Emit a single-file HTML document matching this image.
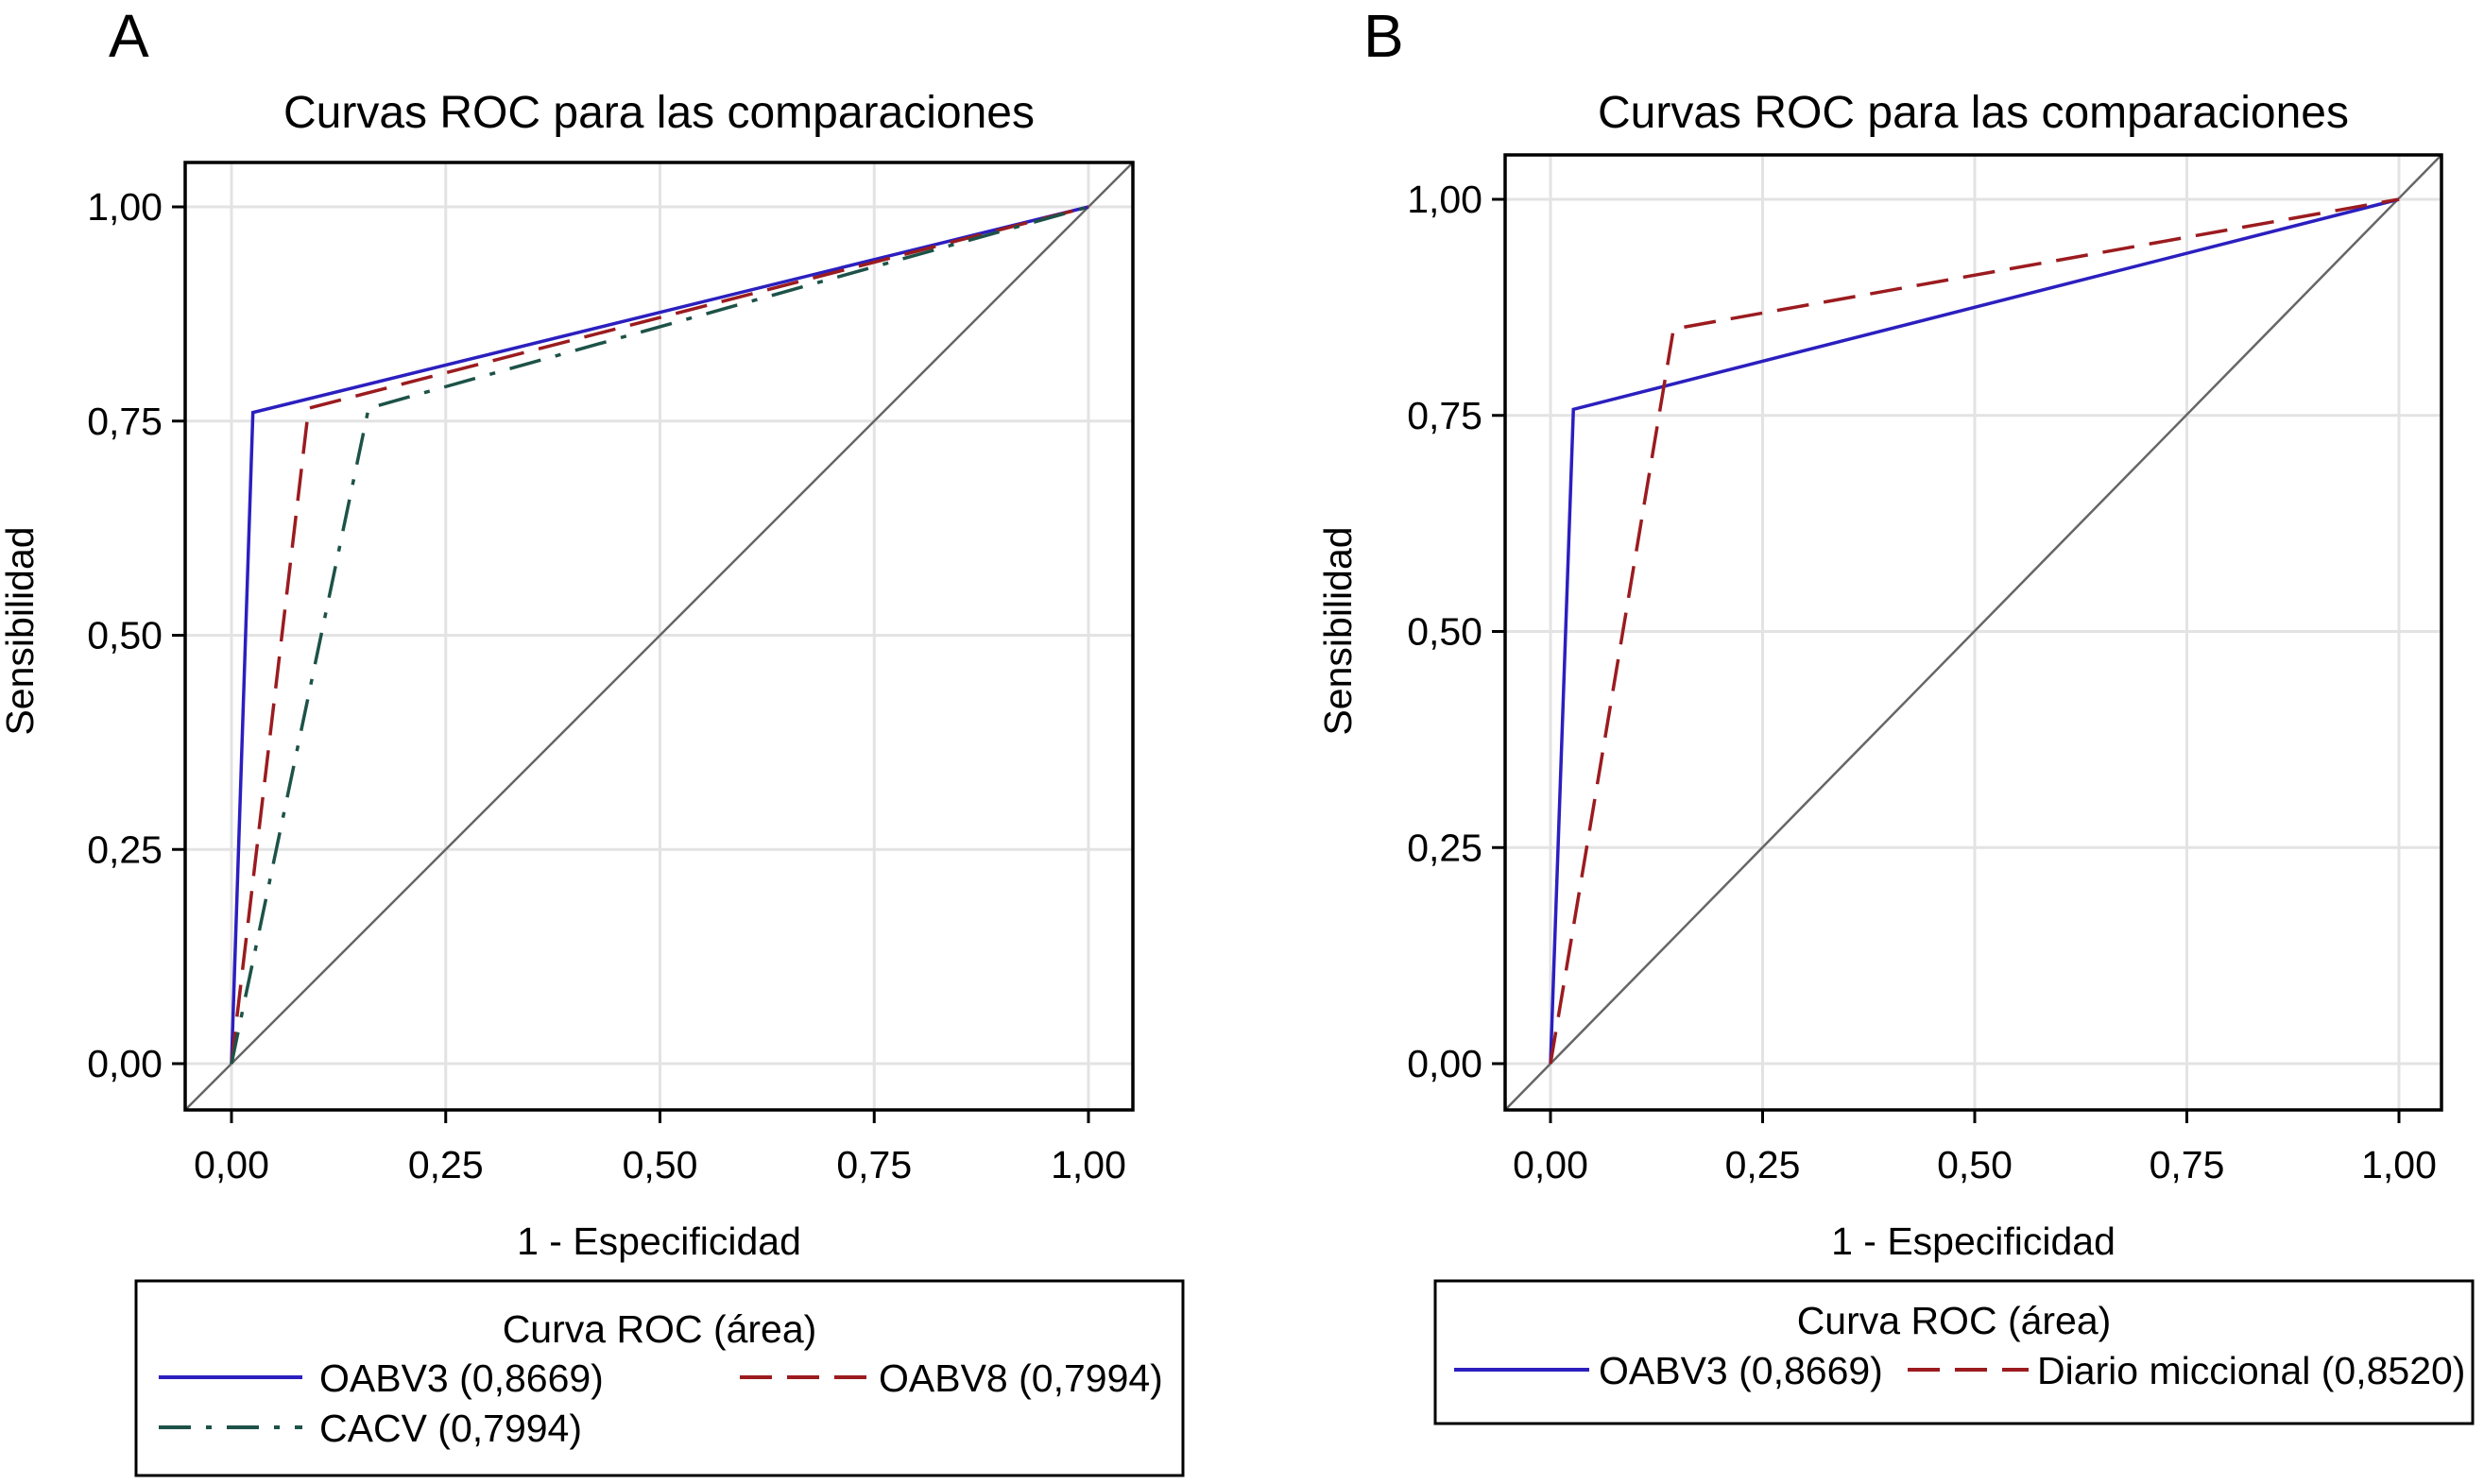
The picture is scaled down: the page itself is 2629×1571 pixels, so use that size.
<!DOCTYPE html>
<html><head><meta charset="utf-8"><style>
html,body{margin:0;padding:0;background:#fff;}
svg{display:block;font-family:"Liberation Sans",sans-serif;}
</style></head><body>
<svg id="chart" width="2629" height="1571" xmlns="http://www.w3.org/2000/svg"></svg>
<script>
const ticks = [0, 0.25, 0.5, 0.75, 1];
const tickLabels = ["0,00", "0,25", "0,50", "0,75", "1,00"];
const aOABV3x = [0, 0.025, 1], aOABV3y = [0, 0.76, 1];
const aOABV8x = [0, 0.09, 1], aOABV8y = [0, 0.765, 1];
const aCACVx = [0, 0.16, 1], aCACVy = [0, 0.765, 1];
const bOABV3x = [0, 0.027, 1], bOABV3y = [0, 0.757, 1];
const bDiarioX = [0, 0.145, 1], bDiarioY = [0, 0.85, 1];

const NS = "http://www.w3.org/2000/svg";
const svg = document.getElementById('chart');
function el(tag, attrs, parent, text) {
  const e = document.createElementNS(NS, tag);
  for (const k in attrs) e.setAttribute(k, attrs[k]);
  if (text !== undefined) e.textContent = text;
  (parent || svg).appendChild(e);
  return e;
}

function panel(p) {
  const g = el('g', {});
  
  
  const X = v => p.x0 + v * (p.x1 - p.x0);
  const Y = v => p.y0 - v * (p.y0 - p.y1);
  ticks.forEach((t, i) => {
    const gx = el('line', {x1: X(t), x2: X(t), y1: p.top, y2: p.bottom, stroke: '#e3e3e3', 'stroke-width': 3}, g);
    
    
    const gy = el('line', {x1: p.left, x2: p.right, y1: Y(t), y2: Y(t), stroke: '#e3e3e3', 'stroke-width': 3}, g);
    
    
    const tx = el('line', {x1: X(t), x2: X(t), y1: p.bottom, y2: p.bottom + 14, stroke: '#000', 'stroke-width': 3}, g);
    
    
    const ty = el('line', {x1: p.left - 14, x2: p.left, y1: Y(t), y2: Y(t), stroke: '#000', 'stroke-width': 3}, g);
    
    
    const lx = el('text', {x: X(t), y: p.bottom + 72, 'font-size': 41, 'text-anchor': 'middle'}, g, tickLabels[i]);
    
    
    const ly = el('text', {x: p.left - 24, y: Y(t) + 14, 'font-size': 41, 'text-anchor': 'end'}, g, tickLabels[i]);
    
    
  });
  const d = el('line', {x1: p.left, y1: p.bottom, x2: p.right, y2: p.top, stroke: '#666', 'stroke-width': 2.5}, g);
  
  
  p.series.forEach(s => {
    const pts = s.x.map((v, i) => X(v) + ',' + Y(s.y[i])).join(' ');
    const pl = el('polyline', {points: pts, fill: 'none', stroke: s.color, 'stroke-width': 3.5, 'stroke-dasharray': s.dash || 'none'}, g);
    
    
  });
  const fr = el('rect', {x: p.left, y: p.top, width: p.right - p.left, height: p.bottom - p.top, fill: 'none', stroke: '#000', 'stroke-width': 3.5}, g);
  
  
  const ttl = el('text', {x: (p.left + p.right) / 2, y: 135, 'font-size': 48, 'text-anchor': 'middle'}, g, 'Curvas ROC para las comparaciones');
  
  
  const letter = el('text', {x: p.letterX, y: 60, 'font-size': 64}, g, p.letter);
  
  
  const xt = el('text', {x: (p.left + p.right) / 2, y: 1328, 'font-size': 41, 'text-anchor': 'middle'}, g, '1 - Especificidad');
  
  
  const yt = el('text', {x: 0, y: 0, 'font-size': 41, 'text-anchor': 'middle', transform: 'translate(' + p.ylabX + ',668) rotate(-90)'}, g, 'Sensibilidad');
  
  
  const L = p.legend;
  const lb = el('rect', {x: L.x, y: L.y, width: L.w, height: L.h, fill: 'none', stroke: '#000', 'stroke-width': 3}, g);
  
  
  const lt = el('text', {x: L.x + L.w / 2, y: L.titleY, 'font-size': 41, 'text-anchor': 'middle'}, g, 'Curva ROC (área)');
  
  
  L.entries.forEach(en => {
    const s = p.series[en.s];
    const ln = el('line', {x1: en.lx1, x2: en.lx2, y1: en.y, y2: en.y, stroke: s.color, 'stroke-width': 4, 'stroke-dasharray': s.dash || 'none'}, g);
    
    
    const tx = el('text', {x: en.tx, y: en.y + 15, 'font-size': 41}, g, en.label);
    
    
  });
}

panel({id: 'a', letter: 'A', letterX: 115, ylabX: 35,
  left: 196, right: 1199, top: 172, bottom: 1175,
  x0: 245, x1: 1152, y0: 1126, y1: 219,
  series: [
    {name: 'oabv3-line', x: aOABV3x, y: aOABV3y, color: '#2b1fbf'},
    {name: 'oabv8-line', x: aOABV8x, y: aOABV8y, color: '#9b1b1f', dash: '34 16'},
    {name: 'cacv-line', x: aCACVx, y: aCACVy, color: '#1d5248', dash: '34 16 6 16'}
  ],
  legend: {x: 144, y: 1356, w: 1108, h: 206, titleY: 1421,
    entries: [
      {s: 0, lx1: 168, lx2: 320, y: 1458, tx: 338, label: 'OABV3 (0,8669)'},
      {s: 1, lx1: 783, lx2: 920, y: 1458, tx: 930, label: 'OABV8 (0,7994)'},
      {s: 2, lx1: 168, lx2: 320, y: 1511, tx: 338, label: 'CACV (0,7994)'}
    ]}
});

panel({id: 'b', letter: 'B', letterX: 1443, ylabX: 1430,
  left: 1593, right: 2584, top: 164, bottom: 1175,
  x0: 1641, x1: 2539, y0: 1126, y1: 211,
  series: [
    {name: 'oabv3-line', x: bOABV3x, y: bOABV3y, color: '#2b1fbf'},
    {name: 'diario-miccional-line', x: bDiarioX, y: bDiarioY, color: '#9b1b1f', dash: '34 16'}
  ],
  legend: {x: 1519, y: 1356, w: 1098, h: 151, titleY: 1412,
    entries: [
      {s: 0, lx1: 1539, lx2: 1682, y: 1450, tx: 1692, label: 'OABV3 (0,8669)'},
      {s: 1, lx1: 2019, lx2: 2147, y: 1450, tx: 2156, label: 'Diario miccional (0,8520)'}
    ]}
});
</script>
</body></html>
